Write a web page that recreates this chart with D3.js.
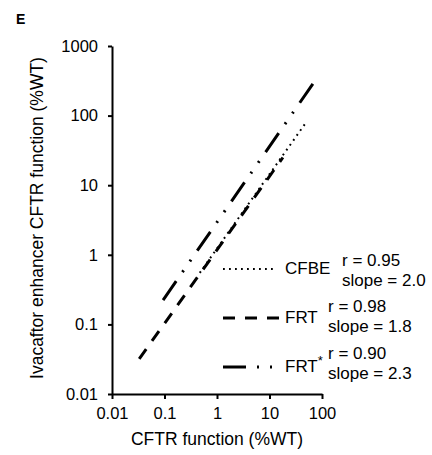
<!DOCTYPE html>
<html lang="en">
<head>
    <meta charset="UTF-8">
    <title>CFTR function vs Ivacaftor enhancer</title>
    <script src="https://d3js.org/d3.v7.min.js"></script>
    <style>
        body {
            margin: 0;
            background-color: #fff;
            font-family: "Liberation Sans", Arial, sans-serif;
        }
        svg { display: block; }
        .axis path, .axis line {
            stroke: #000;
            stroke-width: 2px;
        }
        .axis text {
            font-size: 16.5px;
            fill: #000;
            font-family: "Liberation Sans", Arial, sans-serif;
        }
        .label {
            font-size: 17.5px;
            fill: #000;
        }
        .leg-text {
            font-size: 17px;
            fill: #000;
        }
    </style>
</head>
<body>
<div id="chart"></div>
<script>
    // Dados (extremos de cada reta, em %WT)
    const seriesNames = ["CFBE", "FRT", "FRT*"];
    const cfbeX = [0.47, 47.5];
    const cfbeY = [0.55, 76];
    const frtX = [0.033, 18];
    const frtY = [0.032, 25];
    const frtStarX = [0.094, 80];
    const frtStarY = [0.224, 347];
    const rValues = ["0.95", "0.98", "0.90"];
    const slopeValues = ["2.0", "1.8", "2.3"];
    const xTicks = [0.01, 0.1, 1, 10, 100];
    const yTicks = [0.01, 0.1, 1, 10, 100, 1000];

    const width = 432;
    const height = 455;

    const svg = d3.select("#chart")
        .append("svg")
        .attr("width", width)
        .attr("height", height);

    const x = d3.scaleLog().domain([0.01, 100]).range([112, 322]);
    const y = d3.scaleLog().domain([0.01, 1000]).range([394, 46]);

    const fmt = d3.format("~g");

    // Eixos
    svg.append("g")
        .attr("class", "axis")
        .attr("transform", "translate(0,394)")
        .call(d3.axisBottom(x).tickValues(xTicks).tickFormat(fmt).tickSize(5).tickSizeOuter(0).tickPadding(8));

    svg.append("g")
        .attr("class", "axis")
        .attr("transform", "translate(112,0)")
        .call(d3.axisLeft(y).tickValues(yTicks).tickFormat(fmt).tickSize(4).tickSizeOuter(0).tickPadding(10));

    // Linhas das séries
    const styles = [
        { dash: "1.8,4.2", w: 2 },
        { dash: "12,10", w: 3 },
        { dash: "23,11,2,11,2,11", w: 3 }
    ];
    const series = [
        d3.zip(cfbeX, cfbeY),
        d3.zip(frtX, frtY),
        d3.zip(frtStarX, frtStarY)
    ];

    const line = d3.line().x(d => x(d[0])).y(d => y(d[1]));

    svg.append("g")
        .selectAll("path")
        .data(series)
        .enter()
        .append("path")
        .attr("d", line)
        .attr("fill", "none")
        .attr("stroke", "#000")
        .attr("stroke-width", (d, i) => styles[i].w)
        .attr("stroke-dasharray", (d, i) => styles[i].dash);

    // Legenda
    const legY = [269, 318, 367];
    const statY = [266, 312, 359];
    const leg = svg.append("g");
    seriesNames.forEach((name, i) => {
        leg.append("line")
            .attr("x1", 223).attr("x2", i === 0 ? 276 : 282)
            .attr("y1", legY[i]).attr("y2", legY[i])
            .attr("stroke", "#000")
            .attr("stroke-width", styles[i].w)
            .attr("stroke-dasharray", styles[i].dash);
        const t = leg.append("text")
            .attr("class", "leg-text")
            .attr("x", 285)
            .attr("y", legY[i] + 5);
        if (name.endsWith("*")) {
            t.text(name.slice(0, -1));
            t.append("tspan").attr("dy", -7).attr("font-size", 13).text("*");
        } else {
            t.text(name);
        }
        const sx = i === 0 ? 342 : 328;
        leg.append("text")
            .attr("class", "leg-text")
            .attr("x", sx).attr("y", statY[i])
            .text("r = " + rValues[i]);
        leg.append("text")
            .attr("class", "leg-text")
            .attr("x", sx).attr("y", statY[i] + 19.5)
            .text("slope = " + slopeValues[i]);
    });

    // Títulos
    svg.append("text")
        .attr("class", "label")
        .attr("x", 217).attr("y", 445)
        .attr("text-anchor", "middle")
        .text("CFTR function (%WT)");

    svg.append("text")
        .attr("class", "label")
        .attr("transform", "translate(43,218) rotate(-90)")
        .attr("text-anchor", "middle")
        .text("Ivacaftor enhancer CFTR function (%WT)");

    svg.append("text")
        .attr("x", 16).attr("y", 24)
        .attr("font-size", 14)
        .attr("font-weight", "bold")
        .text("E");
</script>
</body>
</html>
